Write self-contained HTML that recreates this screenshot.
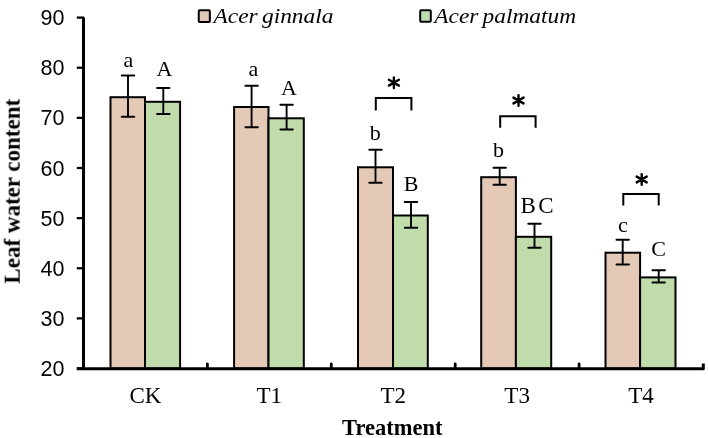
<!DOCTYPE html>
<html><head><meta charset="utf-8"><style>
html,body{margin:0;padding:0;background:#fff;}
body{width:708px;height:438px;overflow:hidden;}
svg{display:block;}
text{-webkit-font-smoothing:antialiased;}
svg text{will-change:transform;}
.yt{font-family:"Liberation Sans",sans-serif;font-size:21.5px;fill:#000;}
.xt{font-family:"Liberation Serif",serif;font-size:23px;fill:#000;}
.lb{font-family:"Liberation Serif",serif;font-size:22px;fill:#000;}
.lg{font-family:"Liberation Serif",serif;font-style:italic;font-size:21.5px;fill:#000;}
.at{font-family:"Liberation Serif",serif;font-weight:bold;font-size:21px;fill:#000;}
</style></head><body>
<svg width="708" height="438" viewBox="0 0 708 438">
<rect x="110.50" y="97.20" width="34.50" height="271.30" fill="#e4cab6" stroke="#000" stroke-width="2"/>
<rect x="145.00" y="101.80" width="35.10" height="266.70" fill="#bfdcaa" stroke="#000" stroke-width="2"/>
<rect x="234.10" y="107.00" width="34.40" height="261.50" fill="#e4cab6" stroke="#000" stroke-width="2"/>
<rect x="268.50" y="118.30" width="35.30" height="250.20" fill="#bfdcaa" stroke="#000" stroke-width="2"/>
<rect x="358.00" y="167.30" width="35.00" height="201.20" fill="#e4cab6" stroke="#000" stroke-width="2"/>
<rect x="393.00" y="215.50" width="34.80" height="153.00" fill="#bfdcaa" stroke="#000" stroke-width="2"/>
<rect x="481.20" y="177.20" width="34.70" height="191.30" fill="#e4cab6" stroke="#000" stroke-width="2"/>
<rect x="515.90" y="236.80" width="35.30" height="131.70" fill="#bfdcaa" stroke="#000" stroke-width="2"/>
<rect x="605.50" y="252.70" width="34.60" height="115.80" fill="#e4cab6" stroke="#000" stroke-width="2"/>
<rect x="640.10" y="277.40" width="35.40" height="91.10" fill="#bfdcaa" stroke="#000" stroke-width="2"/>
<path d="M128.00 75.60V116.80" stroke="#000" stroke-width="1.9" fill="none"/>
<path d="M121.80 75.60H134.20M121.80 116.80H134.20" stroke="#000" stroke-width="2" stroke-linecap="round" fill="none"/>
<path d="M163.30 88.00V114.10" stroke="#000" stroke-width="1.9" fill="none"/>
<path d="M157.10 88.00H169.50M157.10 114.10H169.50" stroke="#000" stroke-width="2" stroke-linecap="round" fill="none"/>
<path d="M251.60 85.80V127.30" stroke="#000" stroke-width="1.9" fill="none"/>
<path d="M245.40 85.80H257.80M245.40 127.30H257.80" stroke="#000" stroke-width="2" stroke-linecap="round" fill="none"/>
<path d="M286.60 104.70V129.40" stroke="#000" stroke-width="1.9" fill="none"/>
<path d="M280.40 104.70H292.80M280.40 129.40H292.80" stroke="#000" stroke-width="2" stroke-linecap="round" fill="none"/>
<path d="M375.50 149.70V182.70" stroke="#000" stroke-width="1.9" fill="none"/>
<path d="M369.30 149.70H381.70M369.30 182.70H381.70" stroke="#000" stroke-width="2" stroke-linecap="round" fill="none"/>
<path d="M411.00 202.00V227.70" stroke="#000" stroke-width="1.9" fill="none"/>
<path d="M404.80 202.00H417.20M404.80 227.70H417.20" stroke="#000" stroke-width="2" stroke-linecap="round" fill="none"/>
<path d="M499.70 167.70V184.80" stroke="#000" stroke-width="1.9" fill="none"/>
<path d="M493.50 167.70H505.90M493.50 184.80H505.90" stroke="#000" stroke-width="2" stroke-linecap="round" fill="none"/>
<path d="M534.50 223.70V247.70" stroke="#000" stroke-width="1.9" fill="none"/>
<path d="M528.30 223.70H540.70M528.30 247.70H540.70" stroke="#000" stroke-width="2" stroke-linecap="round" fill="none"/>
<path d="M622.70 239.80V264.40" stroke="#000" stroke-width="1.9" fill="none"/>
<path d="M616.50 239.80H628.90M616.50 264.40H628.90" stroke="#000" stroke-width="2" stroke-linecap="round" fill="none"/>
<path d="M658.70 270.20V282.50" stroke="#000" stroke-width="1.9" fill="none"/>
<path d="M652.50 270.20H664.90M652.50 282.50H664.90" stroke="#000" stroke-width="2" stroke-linecap="round" fill="none"/>
<path d="M83.5 17.4V368.7M76.8 368.7H703.3V363.5" stroke="#000" stroke-width="3" fill="none" stroke-linejoin="round"/>
<path d="M76.8 17.60H84" stroke="#000" stroke-width="2.3"/>
<path d="M76.8 67.73H84" stroke="#000" stroke-width="2.3"/>
<path d="M76.8 117.86H84" stroke="#000" stroke-width="2.3"/>
<path d="M76.8 167.99H84" stroke="#000" stroke-width="2.3"/>
<path d="M76.8 218.12H84" stroke="#000" stroke-width="2.3"/>
<path d="M76.8 268.25H84" stroke="#000" stroke-width="2.3"/>
<path d="M76.8 318.38H84" stroke="#000" stroke-width="2.3"/>
<path d="M76.8 368.51H84" stroke="#000" stroke-width="2.3"/>
<path d="M207.40 368.5V364" stroke="#000" stroke-width="2.8" stroke-linecap="round"/>
<path d="M331.30 368.5V364" stroke="#000" stroke-width="2.8" stroke-linecap="round"/>
<path d="M455.20 368.5V364" stroke="#000" stroke-width="2.8" stroke-linecap="round"/>
<path d="M579.10 368.5V364" stroke="#000" stroke-width="2.8" stroke-linecap="round"/>
<text x="64.5" y="25.20" text-anchor="end" class="yt">90</text>
<text x="64.5" y="75.33" text-anchor="end" class="yt">80</text>
<text x="64.5" y="125.46" text-anchor="end" class="yt">70</text>
<text x="64.5" y="175.59" text-anchor="end" class="yt">60</text>
<text x="64.5" y="225.72" text-anchor="end" class="yt">50</text>
<text x="64.5" y="275.85" text-anchor="end" class="yt">40</text>
<text x="64.5" y="325.98" text-anchor="end" class="yt">30</text>
<text x="64.5" y="376.11" text-anchor="end" class="yt">20</text>
<text x="145.45" y="402.8" text-anchor="middle" class="xt">CK</text>
<text x="269.35" y="402.8" text-anchor="middle" class="xt">T1</text>
<text x="393.25" y="402.8" text-anchor="middle" class="xt">T2</text>
<text x="517.15" y="402.8" text-anchor="middle" class="xt">T3</text>
<text x="641.05" y="402.8" text-anchor="middle" class="xt">T4</text>
<text x="128.30" y="66.50" text-anchor="middle" class="lb">a</text>
<text x="164.50" y="76.30" text-anchor="middle" class="lb">A</text>
<text x="253.40" y="76.20" text-anchor="middle" class="lb">a</text>
<text x="289.00" y="95.00" text-anchor="middle" class="lb">A</text>
<text x="375.20" y="139.90" text-anchor="middle" class="lb">b</text>
<text x="411.10" y="191.40" text-anchor="middle" class="lb">B</text>
<text x="498.50" y="157.00" text-anchor="middle" class="lb">b</text>
<text x="538.25" y="212.90" text-anchor="middle" class="lb" letter-spacing="2.5" style="font-size:23px">BC</text>
<text x="623.00" y="231.50" text-anchor="middle" class="lb">c</text>
<text x="658.70" y="255.80" text-anchor="middle" class="lb">C</text>
<path d="M375.8 110.5V97.9H411.4V110.5" stroke="#000" stroke-width="2" fill="none"/>
<path d="M393.90 77.40L393.90 88.00M388.88 79.80L398.92 85.60M388.88 85.60L398.92 79.80" stroke="#000" stroke-width="2.4" stroke-linecap="round" fill="none"/>
<path d="M500.2 127.7V116.3H535.6V127.7" stroke="#000" stroke-width="2" fill="none"/>
<path d="M518.50 95.20L518.50 105.80M513.48 97.60L523.52 103.40M513.48 103.40L523.52 97.60" stroke="#000" stroke-width="2.4" stroke-linecap="round" fill="none"/>
<path d="M623.3 205.6V193.9H658.7V205.6" stroke="#000" stroke-width="2" fill="none"/>
<path d="M641.70 174.20L641.70 184.80M636.68 176.60L646.72 182.40M636.68 182.40L646.72 176.60" stroke="#000" stroke-width="2.4" stroke-linecap="round" fill="none"/>
<rect x="198.75" y="10.2" width="11.1" height="11.7" rx="1" fill="#e4cab6" stroke="#000" stroke-width="2"/>
<text x="213.5" y="22.6" class="lg" textLength="120" lengthAdjust="spacingAndGlyphs" word-spacing="-1.5">Acer ginnala</text>
<rect x="420.2" y="10.2" width="10.6" height="11.6" rx="1" fill="#bfdcaa" stroke="#000" stroke-width="2"/>
<text x="434.3" y="22.6" class="lg" textLength="141.8" lengthAdjust="spacingAndGlyphs" word-spacing="-1.5">Acer palmatum</text>
<text x="0" y="0" transform="translate(19.7 191.25) rotate(-90)" text-anchor="middle" class="at" style="font-size:23px">Leaf water content</text>
<text x="392.25" y="434.7" text-anchor="middle" class="at" style="font-size:22.5px">Treatment</text>
</svg>
</body></html>
